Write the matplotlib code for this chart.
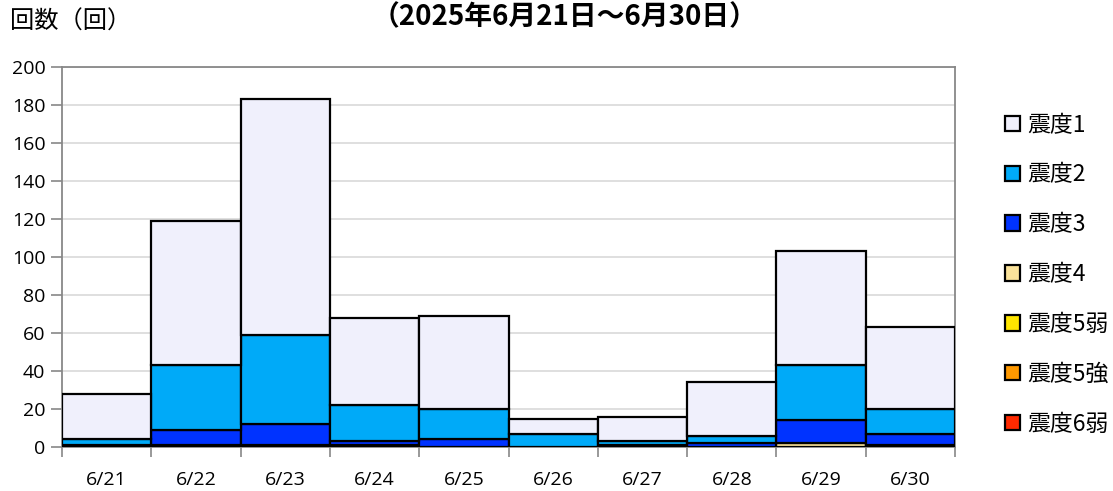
import matplotlib
matplotlib.use("Agg")
import matplotlib.pyplot as plt
from matplotlib.patches import Patch
import numpy as np

plt.rcParams['font.family'] = ['Noto Sans CJK JP', 'DejaVu Sans']

dates = ["6/21", "6/22", "6/23", "6/24", "6/25", "6/26", "6/27", "6/28", "6/29", "6/30"]
levels = ["震度1", "震度2", "震度3", "震度4", "震度5弱", "震度5強", "震度6弱"]
shindo6l = [0, 0, 0, 0, 0, 0, 0, 0, 0, 0]
shindo5u = [0, 0, 0, 0, 0, 0, 0, 0, 0, 0]
shindo5l = [0, 0, 0, 0, 0, 0, 0, 0, 0, 0]
shindo4 = [0, 1, 1, 1, 0, 0, 0, 0, 2, 1]
shindo3 = [1, 8, 11, 2, 4, 0, 1, 2, 12, 6]
shindo2 = [3, 34, 47, 19, 16, 7, 2, 4, 29, 13]
shindo1 = [24, 76, 124, 46, 49, 8, 13, 28, 60, 43]
colors = ["#F0F0FC", "#00AAF8", "#0033FF", "#FAE29A", "#FFE600", "#FF9900", "#FF2A00"]
yticks = [0, 20, 40, 60, 80, 100, 120, 140, 160, 180, 200]

series = [shindo1, shindo2, shindo3, shindo4, shindo5l, shindo5u, shindo6l]
num_font = ['Open Sans', 'DejaVu Sans']

fig = plt.figure(figsize=(11.13, 4.91), dpi=100)
ax = fig.add_axes([62/1113, 44/491, (955-62)/1113, (447-67)/491])

x = np.arange(len(dates))
bottom = np.zeros(len(dates))
# stack from the strongest intensity at the bottom up to 震度1 on top
for vals, col in reversed(list(zip(series, colors))):
    v = np.array(vals, dtype=float)
    ax.bar(x, v, bottom=bottom, width=1.0, color=col, edgecolor="black",
           linewidth=1.6, zorder=3)
    bottom += v

ax.set_xlim(-0.5, len(dates) - 0.5)
ax.set_ylim(0, 200)
ax.set_yticks(yticks)
ax.set_yticklabels([str(t) for t in yticks], fontsize=14, family=num_font)
ax.set_xticks(x)
ax.set_xticklabels(dates, fontsize=14, family=num_font)
ax.set_xticks(np.arange(-0.5, len(dates) + 0.5, 1.0), minor=True)
ax.tick_params(axis="x", which="major", length=0, pad=17)
ax.tick_params(axis="x", which="minor", length=7, color="#888888", width=1.2)
ax.tick_params(axis="y", length=8, color="#888888", width=1.2, pad=4)
ax.yaxis.grid(True, color="#D9D9D9", linewidth=1.2, zorder=0)
ax.set_axisbelow(True)
for s in ax.spines.values():
    s.set_color("#888888")
    s.set_linewidth(1.3)

handles = [Patch(facecolor=c, edgecolor="black", linewidth=1.6) for c in colors]
fig.legend(handles, levels, loc="upper left", bbox_to_anchor=(984/1113, 1 - 93/491),
           frameon=False, fontsize=16.5, handlelength=0.66, handleheight=0.66,
           labelspacing=1.17, handletextpad=0.32, borderpad=0.4)

fig.text(10/1113, 1 - 22/491, "回数（回）", fontsize=17.5, va="center", ha="left")
fig.text(565/1113, 1 - 17/491, "（2025年6月21日～6月30日）", fontsize=20,
         fontweight="bold", va="center", ha="center")

fig.savefig("out.png", dpi=100)
